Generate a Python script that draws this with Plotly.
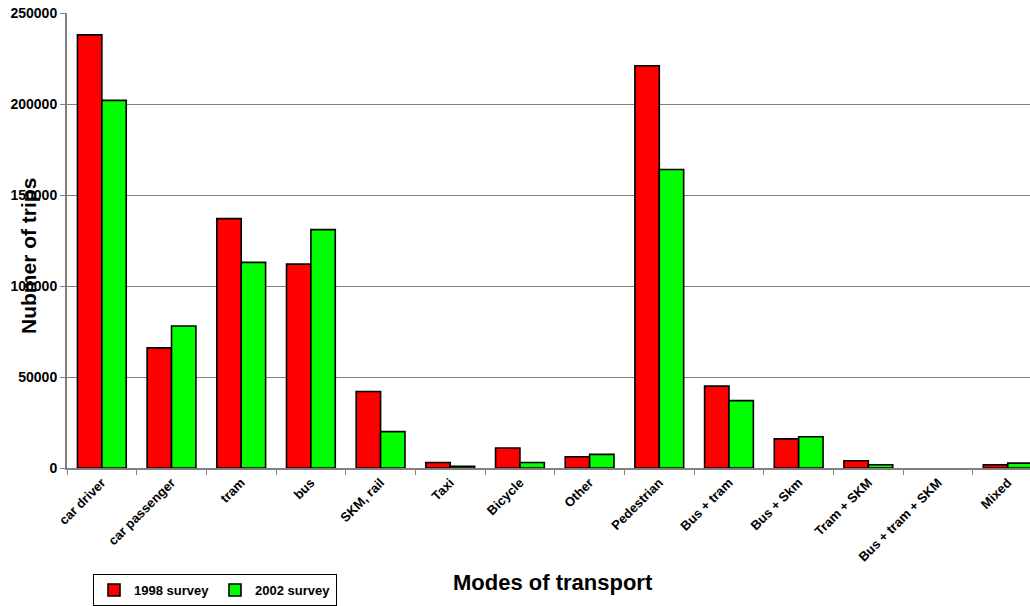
import plotly.graph_objects as go

categories = ["car driver", "car passenger", "tram", "bus", "SKM, rail", "Taxi", "Bicycle",
              "Other", "Pedestrian", "Bus + tram", "Bus + Skm", "Tram + SKM",
              "Bus + tram + SKM", "Mixed"]
survey_1998 = [238000, 66000, 137000, 112000, 42000, 3000, 11000, 6200, 221000, 45000,
               16000, 4000, 0, 1800]
survey_2002 = [202000, 78000, 113000, 131000, 20000, 1000, 3000, 7500, 164000, 37000,
               17200, 1800, 0, 2700]
y_ticks = [0, 50000, 100000, 150000, 200000, 250000]

FONT = "Arial, 'Liberation Sans', sans-serif"
W, H = 1030, 606
L, T, B = 67, 13, 138
plot_w = W - L
plot_h = H - T - B


def outline_widths(vals):
    return [1.6 if v > 0 else 0 for v in vals]


fig = go.Figure()
fig.add_trace(go.Bar(x=categories, y=survey_1998, name="<b>1998 survey</b>",
                     marker=dict(color="#FF0000",
                                 line=dict(color="black", width=outline_widths(survey_1998)))))
fig.add_trace(go.Bar(x=categories, y=survey_2002, name="<b>2002 survey</b>",
                     marker=dict(color="#00FF00",
                                 line=dict(color="black", width=outline_widths(survey_2002)))))

fig.update_layout(
    width=W, height=H,
    margin=dict(l=L, r=0, t=T, b=B, pad=0, autoexpand=False),
    paper_bgcolor="white", plot_bgcolor="white",
    barmode="group", bargap=0.3, bargroupgap=0,
    font=dict(family=FONT, color="black"),
    showlegend=True,
    legend=dict(orientation="h", x=(93 - L) / plot_w, y=(T + plot_h - 574) / plot_h,
                xanchor="left", yanchor="top", bgcolor="white",
                bordercolor="black", borderwidth=1,
                font=dict(family=FONT, size=13, color="black"),
                itemwidth=30, tracegroupgap=0,
                entrywidth=76, entrywidthmode="pixels"),
)

fig.update_xaxes(
    type="category", range=[-0.5, 13.32],
    tickangle=-45, tickson="boundaries",
    ticks="outside", ticklen=5, tickcolor="#808080", tickwidth=1,
    showline=True, linecolor="#808080", linewidth=2,
    showgrid=False,
    tickfont=dict(family=FONT, size=13, color="black"),
    tickprefix="<b>", ticksuffix="</b>",
)
fig.update_yaxes(
    range=[0, 250000], tickvals=y_ticks, ticktext=[f"<b>{v}</b>" for v in y_ticks],
    ticks="outside", ticklen=5, tickcolor="#808080",
    showline=True, linecolor="#808080", linewidth=2,
    showgrid=True, gridcolor="#808080", gridwidth=1,
    zeroline=False,
    tickfont=dict(family=FONT, size=14, color="black"),
)

fig.add_annotation(text="<b>Nubmer of trips</b>", textangle=-90,
                   xref="paper", yref="paper", x=(28 - L) / plot_w, y=(T + plot_h - 256) / plot_h,
                   xanchor="center", yanchor="middle", showarrow=False,
                   font=dict(family=FONT, size=21, color="black"))
fig.add_annotation(text="<b>Modes of transport</b>",
                   xref="paper", yref="paper", x=(553 - L) / plot_w, y=(T + plot_h - 582) / plot_h,
                   xanchor="center", yanchor="middle", showarrow=False,
                   font=dict(family=FONT, size=22, color="black"))

fig.write_html("out.html")
